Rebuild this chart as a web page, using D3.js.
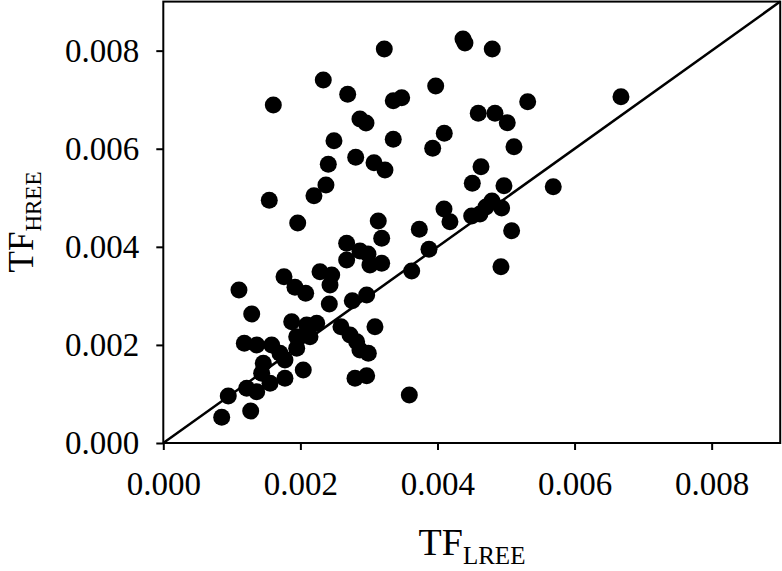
<!DOCTYPE html>
<html><head><meta charset="utf-8">
<script src="https://cdn.jsdelivr.net/npm/d3@7"></script>
<style>body{margin:0;background:#fff}svg{display:block}</style>
</head><body>
<svg id="c" width="782" height="571"></svg>
<script>
const tfLREE = [0.001605,0.002334,0.002690,0.002869,0.002957,0.003224,0.004372,0.004401,0.004799,0.003974,
0.003355,0.003478,0.005316,0.006677,0.002490,0.002807,0.002407,0.002373,0.002198,0.001546,
0.001961,0.003355,0.003074,0.003234,0.004099,0.003930,0.004595,0.004839,0.005018,0.005116,
0.004635,0.004508,0.004970,0.005689,0.004095,0.003136,0.003735,0.003876,0.003624,0.004182,
0.004499,0.004620,0.004707,0.004795,0.004936,0.005082,0.004926,0.003186,0.002869,0.002986,
0.003015,0.003186,0.002967,0.003088,0.002991,0.002967,0.003589,0.002675,0.002675,0.001761,
0.002286,0.002457,0.001921,0.002077,0.002432,0.001104,0.002422,0.002757,0.001290,0.001873,
0.002092,0.002238,0.001946,0.002140,0.002592,0.002724,0.002821,0.001182,0.001363,0.001581,
0.001702,0.001946,0.002869,0.001459,0.001775,0.002042,0.001435,0.001775,0.001557,0.001217,
0.001363,0.002797,0.000948,0.000852,0.001275];
const tfHREE = [0.006891,0.007401,0.007109,0.006606,0.006524,0.008033,0.008237,0.008155,0.008033,0.007278,
0.006979,0.007040,0.006958,0.007060,0.006163,0.005825,0.005682,0.005260,0.005042,0.004948,
0.004485,0.006192,0.005715,0.005566,0.006314,0.006008,0.006722,0.006722,0.006530,0.006041,
0.005633,0.005295,0.005246,0.005225,0.004771,0.004526,0.004357,0.003949,0.003507,0.004512,
0.004628,0.004669,0.004811,0.004934,0.004791,0.004328,0.003594,0.004173,0.003914,0.003853,
0.003629,0.003664,0.003017,0.002371,0.001829,0.001372,0.000979,0.004071,0.003731,0.003390,
0.003492,0.003425,0.003174,0.003052,0.003221,0.003119,0.002834,0.002901,0.002630,0.002473,
0.002406,0.002440,0.002167,0.002167,0.002371,0.002202,0.002065,0.002033,0.001998,0.001998,
0.001829,0.001931,0.001896,0.001625,0.001692,0.001488,0.001421,0.001319,0.001217,0.001115,
0.001046,0.001319,0.000958,0.000524,0.000652];
const axisDomain = [0, 0.009];
const tickValues = [0, 0.002, 0.004, 0.006, 0.008];
const lineEnds = [0, 0.009];

const svg = d3.select("#c");
const L = 163.3, R = 780.2, T = 1.6, B = 443;
const x = d3.scaleLinear().domain(axisDomain).range([L, R]);
const y = d3.scaleLinear().domain(axisDomain).range([B, T]);
const font = "'Liberation Serif','Times New Roman',serif";

// frame
svg.append("rect").attr("x", L).attr("y", T).attr("width", R - L).attr("height", B - T)
  .attr("fill", "none").attr("stroke", "#000").attr("stroke-width", 2);

// 1:1 line
svg.append("line").attr("x1", x(lineEnds[0])).attr("y1", y(lineEnds[0]))
  .attr("x2", x(lineEnds[1])).attr("y2", y(lineEnds[1]))
  .attr("stroke", "#000").attr("stroke-width", 2.5);

// points
svg.append("g").selectAll("circle").data(tfLREE).join("circle")
  .attr("cx", d => x(d)).attr("cy", (d, i) => y(tfHREE[i])).attr("r", 8.5).attr("fill", "#000");

// axes
const fmt = d3.format(".3f");
const xa = svg.append("g").attr("transform", `translate(0,${B})`)
  .call(d3.axisBottom(x).tickValues(tickValues).tickFormat(fmt).tickSize(7).tickPadding(22));
const ya = svg.append("g").attr("transform", `translate(${L},0)`)
  .call(d3.axisLeft(y).tickValues(tickValues).tickFormat(fmt).tickSize(7).tickPadding(17));
[xa, ya].forEach(g => {
  g.select(".domain").remove();
  g.selectAll(".tick line").attr("stroke", "#000").attr("stroke-width", 2);
  g.selectAll("text").attr("font-family", font).attr("font-size", 33).attr("fill", "#000");
});

// titles
const xt = svg.append("text").attr("x", 472).attr("y", 555).attr("text-anchor", "middle")
  .attr("font-family", font).attr("fill", "#000");
xt.append("tspan").attr("font-size", 38).text("TF");
xt.append("tspan").attr("font-size", 25).attr("dy", 9).text("LREE");

const yt = svg.append("text").attr("transform", "translate(33,222) rotate(-90)")
  .attr("text-anchor", "middle").attr("font-family", font).attr("fill", "#000");
yt.append("tspan").attr("font-size", 35).text("TF");
yt.append("tspan").attr("font-size", 23).attr("dy", 8).text("HREE");
</script>
</body></html>
